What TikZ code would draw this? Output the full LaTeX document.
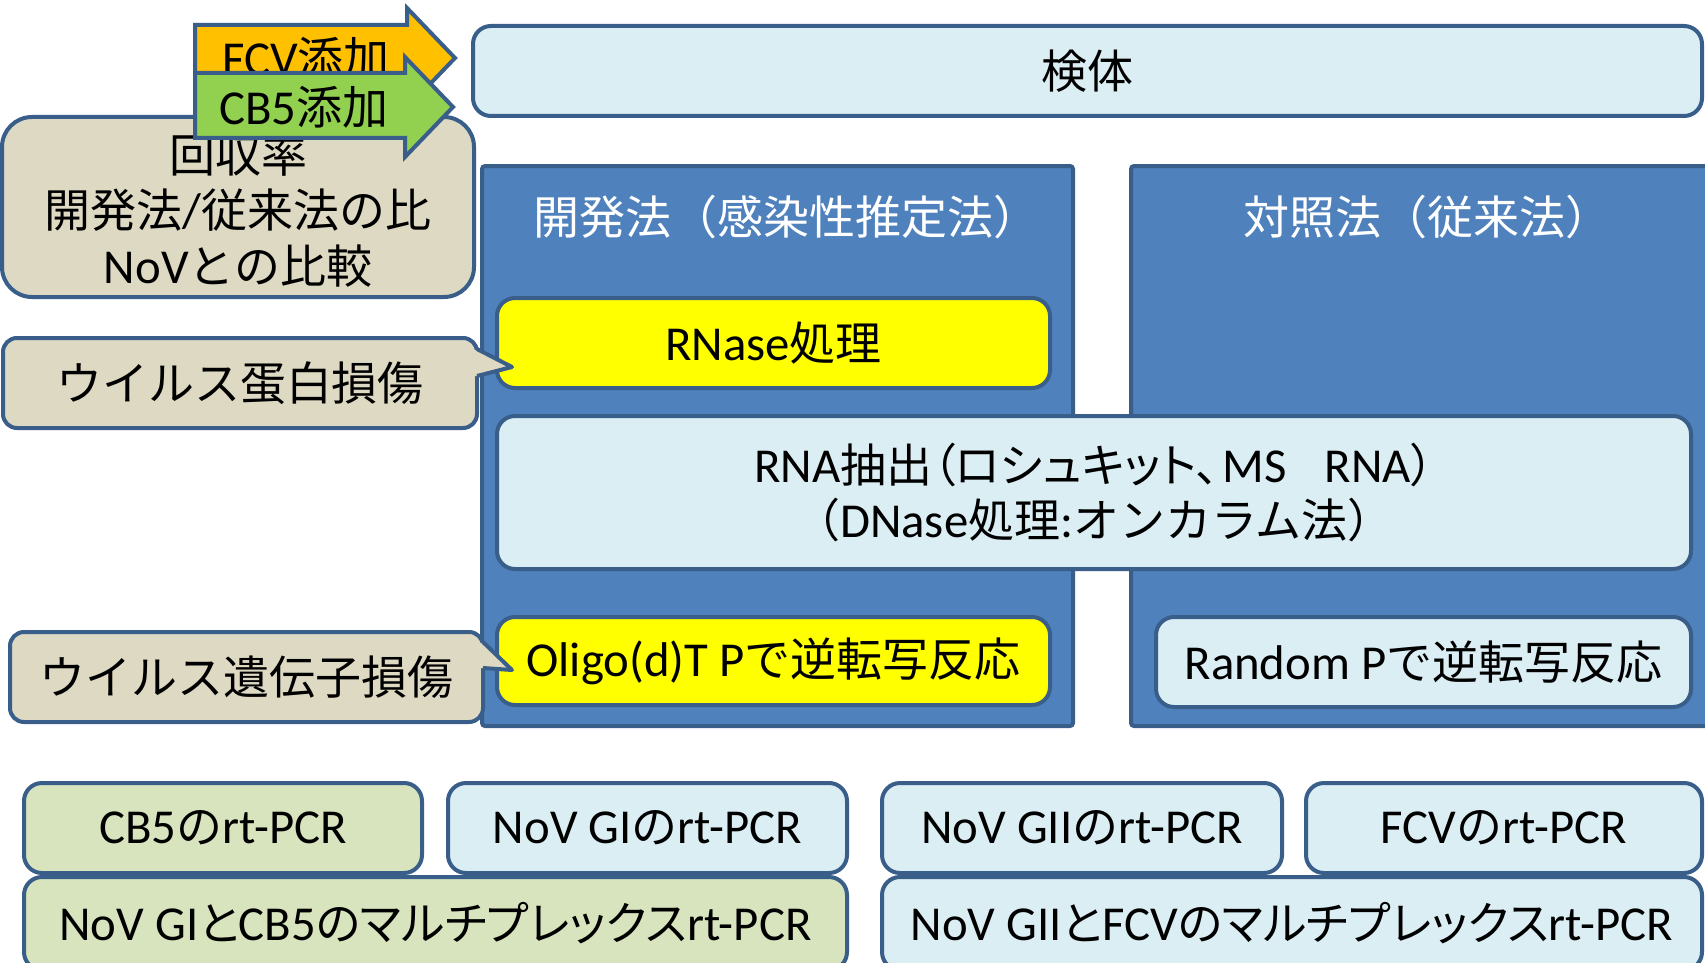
\documentclass[tikz,border=0pt]{standalone}
\usepackage{fontspec}
\setmainfont{Noto Sans CJK JP}
\newfontfamily\lat[Scale=1.06]{Carlito}
\newfontfamily\jpp[RawFeature=+palt]{Noto Sans CJK JP}
\definecolor{bord}{HTML}{3A5E8A}
\definecolor{panelblue}{HTML}{4F81BD}
\definecolor{lightblue}{HTML}{DBEEF4}
\definecolor{beige}{HTML}{DDD9C3}
\definecolor{lgreen}{HTML}{D7E4BD}
\definecolor{orangey}{HTML}{FFC000}
\definecolor{greeny}{HTML}{92D050}
\definecolor{yel}{HTML}{FFFF00}
\newcommand\fs{\fontsize{46}{55}\selectfont}
\tikzset{
  box/.style={draw=bord, line width=4pt, rounded corners=18pt, inner sep=0pt, align=center, text=black, font=\fs},
  bluebox/.style={box, fill=lightblue},
  yelbox/.style={box, fill=yel},
  grnbox/.style={box, fill=lgreen},
  beigebox/.style={box, fill=beige},
  panel/.style={draw=bord, line width=4pt, fill=panelblue, rounded corners=3pt, inner sep=0pt},
  paneltitle/.style={text=white, font=\fs, inner sep=0pt},
  arrowshape/.style={draw=bord, line width=4pt, line join=miter},
  plain/.style={inner sep=0pt, font=\fs, align=center, text=black},
  edge/.style={draw=bord, line width=4pt, line join=round},
}
\begin{document}
\begin{tikzpicture}[x=1pt,y=-1pt]
\useasboundingbox (0,0) rectangle (1705,963);
\fill[white] (0,0) rectangle (1705,963);

% sample box
\node[bluebox, minimum width=1229pt, minimum height=90pt] (kentai) at (1087.5,71) {検体};

% FCV arrow
\draw[arrowshape, fill=orangey] (195,25) -- (407,25) -- (407,8) -- (455,58) -- (407,108) -- (407,91) -- (195,91) -- cycle;
\node[plain] (fcv) at (306,58) {{\lat FCV}添加};

% recovery box
\node[beigebox, rounded corners=30pt, minimum width=472pt, minimum height=180pt] (kaishu) at (238,207) {};
\node[plain] (kaishuA) at (238,155) {回収率};
\node[plain] (kaishuB) at (238,210) {開発法{\lat /}従来法の比};
\node[plain] (kaishuC) at (238,266) {{\lat NoV}との比較};

% CB5 arrow
\draw[arrowshape, fill=greeny] (195,73) -- (405,73) -- (405,57) -- (453,107) -- (405,157) -- (405,138) -- (195,138) -- cycle;
\node[plain] (cb5) at (304,107) {{\lat CB5}添加};

% panels
\node[panel, minimum width=591pt, minimum height=560pt] (panelL) at (777.5,446) {};
\node[panel, minimum width=589pt, minimum height=560pt] (panelR) at (1425.5,446) {};
\node[paneltitle] (titleL) at (786,217) {開発法（感染性推定法）};
\node[paneltitle] (titleR) at (1427,217) {対照法（従来法）};

% inner boxes
\node[yelbox, minimum width=553pt, minimum height=90pt] (rnase) at (773.5,343) {{\lat RNase}処理};
\node[bluebox, minimum width=1194pt, minimum height=153pt] (rna) at (1094,492.5) {{\jpp{\lat RNA}抽出（ロシュキット、\hspace{4pt}{\lat MS}\hspace{38pt}{\lat RNA}）}\\（{\lat DNase}処理{\lat :}オンカラム法）};
\node[yelbox, minimum width=553pt, minimum height=88pt] (oligo) at (773.5,661) {{\lat Oligo(d)T P}で逆転写反応};
\node[bluebox, minimum width=535pt, minimum height=90pt] (random) at (1423.5,662) {{\lat Random P}で逆転写反応};

% callouts
\node[beigebox, rounded corners=14pt, minimum width=474pt, minimum height=90pt] (call1) at (240,383) {ウイルス蛋白損傷};
\fill[beige] (468,350) -- (477,350) -- (512,367) -- (477,376) -- (468,376) -- cycle;
\coordinate (tip1) at (512,367);
\draw[edge] (477,349) -- (tip1) -- (477,376);

\node[beigebox, rounded corners=14pt, minimum width=473pt, minimum height=90pt] (call2) at (246.5,677) {ウイルス遺伝子損傷};
\fill[beige] (474,643) -- (483,643) -- (512,670) -- (483,668) -- (474,668) -- cycle;
\coordinate (tip2) at (512,670);
\draw[edge] (483,642) -- (tip2) -- (483,668);

% bottom boxes
\node[grnbox, minimum width=398pt, minimum height=90pt] (b1) at (223,828) {{\lat CB5}の{\lat rt-PCR}};
\node[bluebox, minimum width=399pt, minimum height=90pt] (b2) at (647.5,828) {{\lat NoV GI}の{\lat rt-PCR}};
\node[bluebox, minimum width=400pt, minimum height=90pt] (b3) at (1082,828) {{\lat NoV GII}の{\lat rt-PCR}};
\node[bluebox, minimum width=396pt, minimum height=90pt] (b4) at (1504,828) {{\lat FCV}の{\lat rt-PCR}};
\node[grnbox, minimum width=823pt, minimum height=93pt] (m1) at (435.5,923.5) {\jpp{\lat NoV GI}と{\lat CB5}のマルチプレックス{\lat rt-PCR}};
\node[bluebox, minimum width=820pt, minimum height=93pt] (m2) at (1292,923.5) {\jpp{\lat NoV GII}と{\lat FCV}のマルチプレックス{\lat rt-PCR}};
\end{tikzpicture}
\end{document}
